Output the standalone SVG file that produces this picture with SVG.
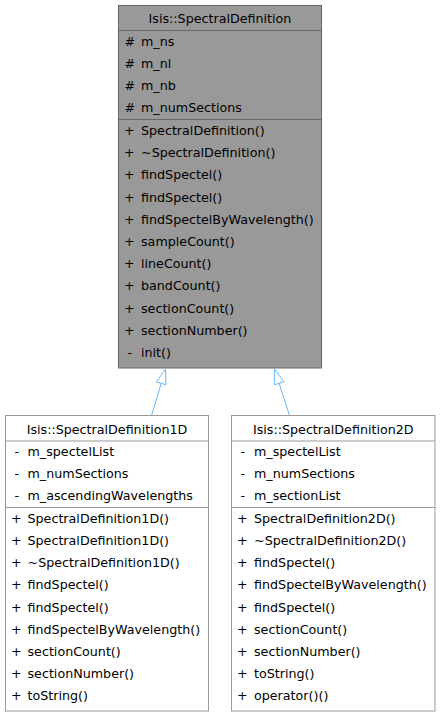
<svg xmlns="http://www.w3.org/2000/svg" width="440" height="717" viewBox="0 0 440 717">
<style>
text{font-family:"DejaVu Sans",sans-serif;font-size:12.7px;fill:#000}
.t{text-anchor:middle}
.base{fill:#999999;stroke:#666666;stroke-width:1}
.sepb{stroke:#666666;stroke-width:1}
.derived{fill:#ffffff;stroke:#999999;stroke-width:1}
.sepd{stroke:#999999;stroke-width:1}
.edge{fill:none;stroke:#63b8ff;stroke-width:1}
.head{fill:#ffffff;stroke:#63b8ff;stroke-width:1}
</style>
<rect width="440" height="717" fill="#ffffff"/>
<g id="connectors">
<path class="edge" d="M151.5,415.5 L161.2,383.4"/>
<polygon class="head" points="165.5,369 166.0,384.8 156.4,381.9"/>
<path class="edge" d="M289.5,415.5 L279.1,383.3"/>
<polygon class="head" points="274.5,369 283.9,381.8 274.3,384.8"/>
</g>
<g id="SpectralDefinition">
<rect class="base" x="118.5" y="5.5" width="203" height="362.5"/>
<line class="sepb" x1="118.5" y1="30.5" x2="321.5" y2="30.5"/>
<line class="sepb" x1="118.5" y1="119.5" x2="321.5" y2="119.5"/>
<text class="t" x="220" y="23">Isis::SpectralDefinition</text>
<text x="124.5" y="45.8">#</text><text x="141" y="45.8">m_ns</text>
<text x="124.5" y="67.9">#</text><text x="141" y="67.9">m_nl</text>
<text x="124.5" y="90">#</text><text x="141" y="90">m_nb</text>
<text x="124.5" y="112.1">#</text><text x="141" y="112.1">m_numSections</text>
<text x="124" y="135">+</text><text x="141" y="135">SpectralDefinition()</text>
<text x="124" y="157.2">+</text><text x="141" y="157.2">~SpectralDefinition()</text>
<text x="124" y="179.4">+</text><text x="141" y="179.4">findSpectel()</text>
<text x="124" y="201.6">+</text><text x="141" y="201.6">findSpectel()</text>
<text x="124" y="223.8">+</text><text x="141" y="223.8">findSpectelByWavelength()</text>
<text x="124" y="246">+</text><text x="141" y="246">sampleCount()</text>
<text x="124" y="268.2">+</text><text x="141" y="268.2">lineCount()</text>
<text x="124" y="290.4">+</text><text x="141" y="290.4">bandCount()</text>
<text x="124" y="312.6">+</text><text x="141" y="312.6">sectionCount()</text>
<text x="124" y="334.8">+</text><text x="141" y="334.8">sectionNumber()</text>
<text x="127.5" y="357">-</text><text x="141" y="357">init()</text>
</g>
<g id="SpectralDefinition1D">
<rect class="derived" x="5.5" y="415.5" width="203" height="295.5"/>
<line class="sepd" x1="5.5" y1="441" x2="208.5" y2="441"/>
<line class="sepd" x1="5.5" y1="507.5" x2="208.5" y2="507.5"/>
<text class="t" x="107" y="433.5">Isis::SpectralDefinition1D</text>
<text x="14.5" y="455.5">-</text><text x="27.5" y="455.5">m_spectelList</text>
<text x="14.5" y="477.7">-</text><text x="27.5" y="477.7">m_numSections</text>
<text x="14.5" y="499.9">-</text><text x="27.5" y="499.9">m_ascendingWavelengths</text>
<text x="11" y="522.7">+</text><text x="27.5" y="522.7">SpectralDefinition1D()</text>
<text x="11" y="544.9">+</text><text x="27.5" y="544.9">SpectralDefinition1D()</text>
<text x="11" y="567.1">+</text><text x="27.5" y="567.1">~SpectralDefinition1D()</text>
<text x="11" y="589.3">+</text><text x="27.5" y="589.3">findSpectel()</text>
<text x="11" y="611.5">+</text><text x="27.5" y="611.5">findSpectel()</text>
<text x="11" y="633.7">+</text><text x="27.5" y="633.7">findSpectelByWavelength()</text>
<text x="11" y="655.9">+</text><text x="27.5" y="655.9">sectionCount()</text>
<text x="11" y="678.1">+</text><text x="27.5" y="678.1">sectionNumber()</text>
<text x="11" y="700.3">+</text><text x="27.5" y="700.3">toString()</text>
</g>
<g id="SpectralDefinition2D">
<rect class="derived" x="231.5" y="415.5" width="203.5" height="295.5"/>
<line class="sepd" x1="231.5" y1="441" x2="435" y2="441"/>
<line class="sepd" x1="231.5" y1="507.5" x2="435" y2="507.5"/>
<text class="t" x="333.3" y="433.5">Isis::SpectralDefinition2D</text>
<text x="240.5" y="455.5">-</text><text x="254" y="455.5">m_spectelList</text>
<text x="240.5" y="477.7">-</text><text x="254" y="477.7">m_numSections</text>
<text x="240.5" y="499.9">-</text><text x="254" y="499.9">m_sectionList</text>
<text x="237" y="522.7">+</text><text x="254" y="522.7">SpectralDefinition2D()</text>
<text x="237" y="544.9">+</text><text x="254" y="544.9">~SpectralDefinition2D()</text>
<text x="237" y="567.1">+</text><text x="254" y="567.1">findSpectel()</text>
<text x="237" y="589.3">+</text><text x="254" y="589.3">findSpectelByWavelength()</text>
<text x="237" y="611.5">+</text><text x="254" y="611.5">findSpectel()</text>
<text x="237" y="633.7">+</text><text x="254" y="633.7">sectionCount()</text>
<text x="237" y="655.9">+</text><text x="254" y="655.9">sectionNumber()</text>
<text x="237" y="678.1">+</text><text x="254" y="678.1">toString()</text>
<text x="237" y="700.3">+</text><text x="254" y="700.3">operator()()</text>
</g>
</svg>
